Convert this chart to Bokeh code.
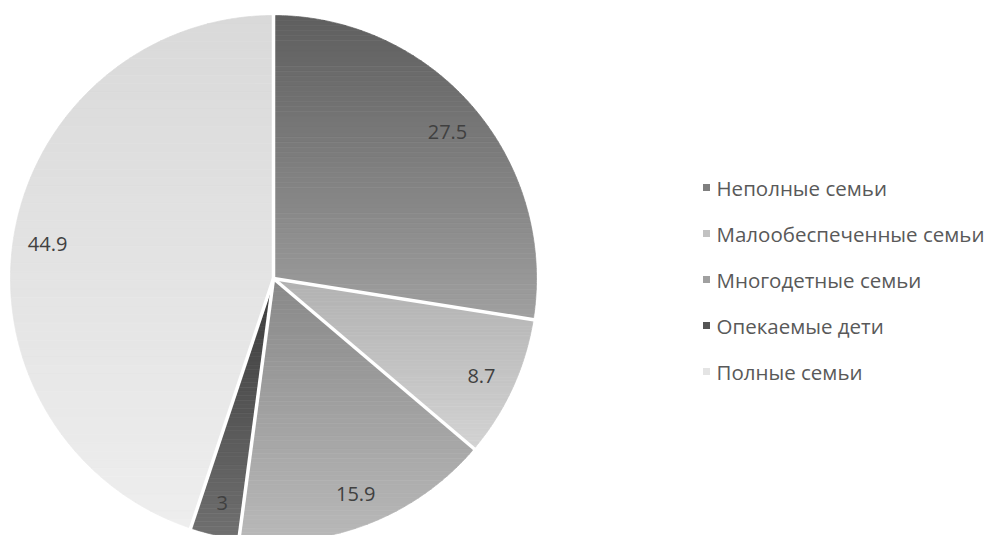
import math
from bokeh.plotting import figure
from bokeh.models import Range1d, ColumnDataSource
from bokeh.core.properties import value
from bokeh.embed import file_html
from bokeh.resources import INLINE

categories = ["Неполные семьи", "Малообеспеченные семьи", "Многодетные семьи", "Опекаемые дети", "Полные семьи"]
values = [27.5, 8.7, 15.9, 3, 44.9]
labels = ["27.5", "8.7", "15.9", "3", "44.9"]
top_colors = ["#5e5e5e", "#b1b1b1", "#888888", "#3a3a3a", "#d9d9d9"]
bottom_colors = ["#a0a0a0", "#d3d3d3", "#b9b9b9", "#707070", "#eeeeee"]

W, H = 991, 535
CX, CY, R = 273, 257, 263
FONT = "Open Sans"

p = figure(width=W, height=H, output_backend="svg", toolbar_location=None,
           x_range=Range1d(0, W), y_range=Range1d(0, H), min_border=0)
p.axis.visible = False
p.grid.visible = False
p.outline_line_color = None
p.background_fill_color = "white"
p.border_fill_color = "white"


def hex_to_rgb(h):
    h = h.lstrip("#")
    return tuple(int(h[i:i + 2], 16) for i in (0, 2, 4))


def mix(c1, c2, t):
    a, b = hex_to_rgb(c1), hex_to_rgb(c2)
    return "#%02x%02x%02x" % tuple(int(round(a[i] + (b[i] - a[i]) * t)) for i in range(3))


def clip_half(poly, y0, keep_above):
    out = []
    n = len(poly)
    for i in range(n):
        cur = poly[i]
        prev = poly[i - 1]
        cin = cur[1] >= y0 if keep_above else cur[1] <= y0
        pin = prev[1] >= y0 if keep_above else prev[1] <= y0
        if cin:
            if not pin:
                t = (y0 - prev[1]) / (cur[1] - prev[1])
                out.append((prev[0] + t * (cur[0] - prev[0]), y0))
            out.append(cur)
        elif pin:
            t = (y0 - prev[1]) / (cur[1] - prev[1])
            out.append((prev[0] + t * (cur[0] - prev[0]), y0))
    return out


total = sum(values)
xs, ys, cols = [], [], []
bounds = []
mids = []
cum = 0.0
for v, ct, cb in zip(values, top_colors, bottom_colors):
    a0 = math.pi / 2 - 2 * math.pi * cum / total
    a1 = math.pi / 2 - 2 * math.pi * (cum + v) / total
    bounds.append(a0)
    mids.append((a0 + a1) / 2)
    npts = max(8, int(abs(a1 - a0) * 120))
    poly = [(CX, CY)] + [(CX + R * math.cos(a0 + (a1 - a0) * k / npts),
                          CY + R * math.sin(a0 + (a1 - a0) * k / npts)) for k in range(npts + 1)]
    ymin = min(q[1] for q in poly)
    ymax = max(q[1] for q in poly)
    nb = 60
    for b in range(nb):
        hi = ymax - (ymax - ymin) * b / nb
        lo = ymax - (ymax - ymin) * (b + 1) / nb
        band = clip_half(clip_half(poly, lo, True), hi, False)
        if len(band) < 3:
            continue
        xs.append([q[0] for q in band])
        ys.append([q[1] for q in band])
        cols.append(mix(ct, cb, (b + 0.5) / nb))
    cum += v

p.patches(xs="xs", ys="ys", fill_color="c", line_color="c", line_width=0.7,
          source=ColumnDataSource(dict(xs=xs, ys=ys, c=cols)))

# white separators
sx1 = [CX + (R + 2) * math.cos(a) for a in bounds]
sy1 = [CY + (R + 2) * math.sin(a) for a in bounds]
p.segment(x0=[CX] * len(bounds), y0=[CY] * len(bounds), x1=sx1, y1=sy1,
          line_color="white", line_width=3.5)

# data labels
lr = 0.87 * R
p.text(x=[CX + lr * math.cos(m) for m in mids], y=[CY + lr * math.sin(m) - 2 for m in mids],
       text=labels, text_align="center", text_baseline="middle",
       text_font=value(FONT), text_font_size="20px", text_color="#404040")

# legend
lx = 706
ly0 = H - 187
step = 46
leg_y = [ly0 - i * step for i in range(len(categories))]
p.scatter(x=[lx] * len(categories), y=leg_y, marker="square", size=7,
          fill_color=[mix(a, b, 0.5) for a, b in zip(top_colors, bottom_colors)], line_color=None)
p.text(x=[lx + 10] * len(categories), y=leg_y, text=categories, text_align="left",
       text_baseline="middle", text_font=value(FONT), text_font_size="20.5px", text_color="#595959")

open("out.html", "w").write(file_html(p, INLINE))
